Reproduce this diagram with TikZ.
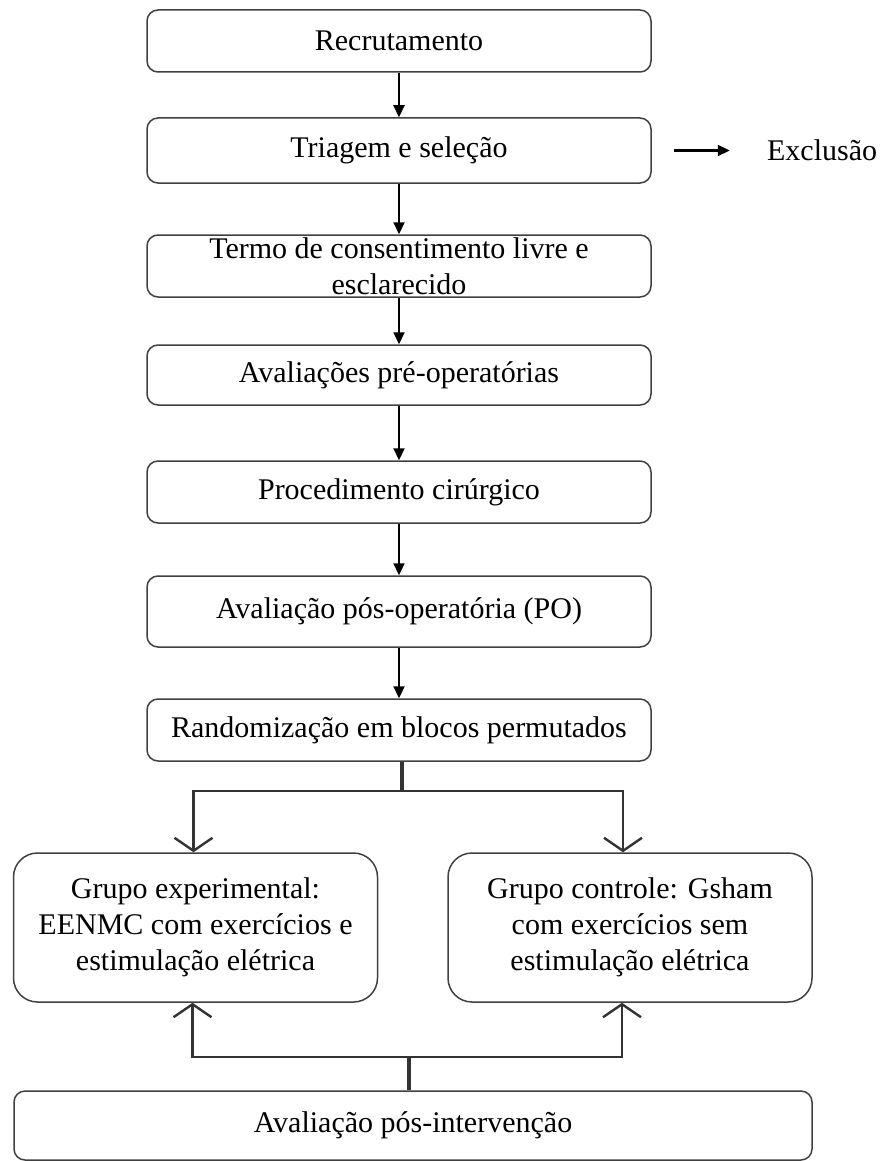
\documentclass[tikz,border=0pt]{standalone}
\usepackage{fontspec}
\setmainfont{Liberation Serif}
\usetikzlibrary{arrows.meta}
\usetikzlibrary{positioning}
\usetikzlibrary{calc}
\tikzset{stage/.style={rectangle,rounded corners=5.5pt,draw=black!75,line width=0.75pt,
minimum width=252pt,minimum height=31pt,inner sep=0pt,align=center,
font=\fontsize{15}{18}\selectfont},
group/.style={stage,rounded corners=12pt,minimum width=182pt,minimum height=74.5pt},
note/.style={inner sep=0pt,font=\fontsize{15}{18}\selectfont},
flow/.style={-{Triangle[length=6pt,width=5.5pt]},line width=1.1pt},
branch/.style={-{Straight Barb[length=6.5pt,width=19pt]},line width=1.2pt,draw=black!80},
stem/.style={line width=1.8pt,draw=black!80}}

\begin{document}
\begin{tikzpicture}[x=0.5pt,y=-0.5pt]
  \useasboundingbox (0,0) rectangle (879,1161);

  \node (rec)  [stage] at (399,41) {Recrutamento};
  \node (tri)  [stage,minimum height=32.5pt] at (399,150.5) {Triagem e seleção};
  \node (excl) [note,right=57.5pt of tri] {Exclusão};
  \node (tcle) [stage] at (399,266) {Termo de consentimento livre e\\esclarecido};
  \node (pre)  [stage,minimum height=30pt] at (399,375) {Avaliações pré-operatórias};
  \node (cir)  [stage] at (399,492) {Procedimento cirúrgico};
  \node (pos)  [stage,minimum height=35.5pt] at (399,611.5) {Avaliação pós-operatória (PO)};
  \node (rand) [stage] at (399,730) {Randomização em blocos permutados};

  \node (gexp) [group] at (195.5,927.5) {Grupo experimental:\\EENMC com exercícios e\\estimulação elétrica};
  \node (gctl) [group] at (630,927.5) {Grupo controle: Gsham\\com exercícios sem\\estimulação elétrica};
  \node (post) [stage,minimum width=399pt,minimum height=34.5pt] at (413,1125.5) {Avaliação pós-intervenção};

  \draw [flow] (rec) -- (tri);
  \draw [flow] (tri) -- (tcle);
  \draw [flow] (tcle) -- (pre);
  \draw [flow] (pre) -- (cir);
  \draw [flow] (cir) -- (pos);
  \draw [flow] (pos) -- (rand);
  \draw [flow] ([xshift=11pt]tri.east) -- ([xshift=-18.5pt]excl.west);

  % randomizacao -> grupos
  \coordinate (split) at ($(rand.south)+(3,29)$);
  \draw [stem] (split |- rand.south) -- (split);
  \draw [branch] (split) -| ([xshift=-1pt]gexp.north);
  \draw [branch] (split) -| ([xshift=-3.5pt]gctl.north);

  % avaliacao final -> grupos
  \coordinate (join) at ($(post.north)+(-4,-33)$);
  \draw [stem] (join |- post.north) -- (join);
  \draw [branch] (join) -| ([xshift=-1.5pt]gexp.south);
  \draw [branch] (join) -| ([xshift=-4pt]gctl.south);
\end{tikzpicture}
\end{document}
